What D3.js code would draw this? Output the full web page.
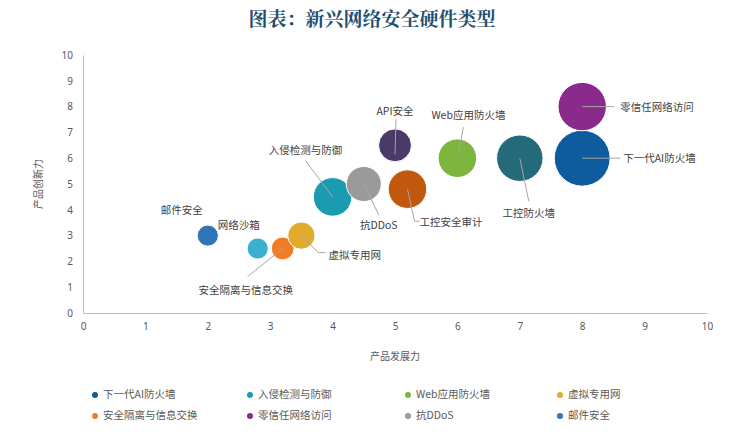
<!DOCTYPE html>
<html><head><meta charset="utf-8">
<script src="https://cdn.jsdelivr.net/npm/d3@7"></script>
<style>body{margin:0;background:#fff;font-family:"Noto Sans CJK SC","Noto Sans",sans-serif;}</style>
</head><body><svg id="chart"></svg>
<script>
var names = ["邮件安全","网络沙箱","安全隔离与信息交换","虚拟专用网","入侵检测与防御","抗DDoS","API安全","工控安全审计","Web应用防火墙","工控防火墙","下一代AI防火墙","零信任网络访问"];
var devPower = [2, 2.8, 3.2, 3.5, 4, 4.5, 5, 5.2, 6, 7, 8, 8];
var innovPower = [3, 2.5, 2.5, 3.0, 4.5, 5, 6.5, 4.8, 6, 6, 6, 8];
var sizes = [1.2, 1.2, 1.4, 2, 4, 3.3, 2.9, 4, 4, 5.8, 8.4, 6.3];
var colors = ["#2e75b6","#3bb0d0","#f07c24","#e2ac2a","#1a9bb0","#9a9a9a","#4a3a6a","#c0580e","#7cb63e","#256a7a","#0e5c9e","#8a2a8a"];
var ticks = [0,1,2,3,4,5,6,7,8,9,10];
var legendNames = ["下一代AI防火墙","入侵检测与防御","Web应用防火墙","虚拟专用网","安全隔离与信息交换","零信任网络访问","抗DDoS","邮件安全"];

// label layout: [text dx, text dy, anchor, leader points relative to center]
var labelPos = [
  [-26,-24,"middle",null],
  [-40,-22,"start",null],
  [-37,43,"middle",[[0,0],[-35,28]]],
  [27,21,"start",[[0,0],[17,17],[24,17]]],
  [-27,-46,"middle",[[0,0],[-27,-36]]],
  [15,42,"middle",[[0,0],[15,31]]],
  [0,-33,"middle",[[0,9],[1,-26]]],
  [12,34,"start",[[0,0],[7,32],[12,32]]],
  [11,-42,"middle",[[1,-5],[6,-31]]],
  [9,56,"middle",[[0,0],[9,43]]],
  [41,1,"start",[[0,0],[38,0]]],
  [38,2,"start",[[0,0],[32,0]]]
];

var W = 744, H = 436;
var svg = d3.select("#chart").attr("width",W).attr("height",H);
var x = d3.scaleLinear().domain([0,10]).range([83,707]);
var y = d3.scaleLinear().domain([0,10]).range([313,55]);
var r = d3.scaleSqrt().domain([0,10]).range([0,30.5]);

svg.append("text").text("图表：新兴网络安全硬件类型")
   .attr("x",W/2).attr("y",26).attr("text-anchor","middle")
   .attr("font-family","Noto Serif CJK SC, Noto Sans CJK SC, serif").attr("font-weight","bold")
   .attr("font-size",19).attr("fill","#1f4e6e");

var gx = svg.append("g").attr("transform","translate(0,313)")
   .call(d3.axisBottom(x).tickValues(ticks).tickSize(0).tickPadding(10));
var gy = svg.append("g").attr("transform","translate(83,0)")
   .call(d3.axisLeft(y).tickValues(ticks).tickSize(0).tickPadding(10));
[gx,gy].forEach(function(g){
  g.select(".domain").attr("stroke","#bfbfbf");
  g.selectAll("text").attr("fill","#595959").attr("font-size",10).attr("font-family","Noto Sans");
});

svg.append("text").text("产品发展力").attr("x",x(5)).attr("y",360)
   .attr("text-anchor","middle").attr("font-size",10).attr("fill","#595959");
svg.append("text").text("产品创新力").attr("transform","translate(42,"+y(5)+") rotate(-90)")
   .attr("text-anchor","middle").attr("font-size",10).attr("fill","#595959");

var data = names.map(function(n,i){
  return {name:n, x:devPower[i], y:innovPower[i], s:sizes[i], c:colors[i], lp:labelPos[i]};
});

svg.selectAll("circle.b").data(data).enter().append("circle")
   .attr("class","b")
   .attr("cx",function(d){return x(d.x);})
   .attr("cy",function(d){return y(d.y);})
   .attr("r",function(d){return r(d.s);})
   .attr("fill",function(d){return d.c;})
   .attr("stroke","#fff").attr("stroke-width",1);

var line = d3.line();
svg.selectAll("path.lead").data(data.filter(function(d){return d.lp[3];})).enter().append("path")
   .attr("class","lead")
   .attr("d",function(d){
     var cx = x(d.x), cy = y(d.y);
     return line(d.lp[3].map(function(p){return [cx+p[0],cy+p[1]];}));
   })
   .attr("fill","none").attr("stroke","#a6a6a6").attr("stroke-width",1);

svg.selectAll("text.lbl").data(data).enter().append("text")
   .attr("class","lbl").text(function(d){return d.name;})
   .attr("x",function(d){return x(d.x)+d.lp[0];})
   .attr("y",function(d){return y(d.y)+d.lp[1];})
   .attr("text-anchor",function(d){return d.lp[2];})
   .attr("dominant-baseline","middle")
   .attr("font-size",10.5).attr("fill","#404040");

var lg = svg.selectAll("g.lg").data(legendNames).enter().append("g").attr("class","lg")
   .attr("transform",function(d,i){return "translate("+[95,250,408,560][i%4]+","+(i<4?395:416)+")";});
lg.append("circle").attr("r",3).attr("fill",function(d){return colors[names.indexOf(d)];});
lg.append("text").text(function(d){return d;}).attr("x",8).attr("dominant-baseline","middle")
  .attr("font-size",10.5).attr("fill","#595959");
</script></body></html>
